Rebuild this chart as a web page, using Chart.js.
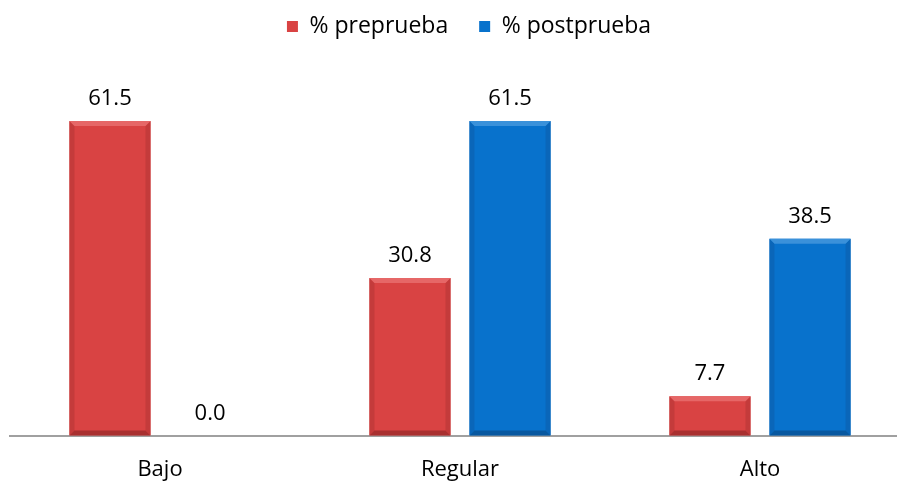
<!DOCTYPE html>
<html><head><meta charset="utf-8">
<script src="https://cdn.jsdelivr.net/npm/chart.js@4/dist/chart.umd.min.js"></script>
<style>html,body{margin:0;padding:0;overflow:hidden;background:#fff}#wrap{width:910px;height:496px;position:relative}</style>
</head><body><div id="wrap"><canvas id="c"></canvas></div>
<script>
const categories = ["Bajo", "Regular", "Alto"];
const preprueba = [61.5, 30.8, 7.7];
const postprueba = [0.0, 61.5, 38.5];
const seriesNames = ["% preprueba", "% postprueba"];
const FONT = '"Open Sans", "Liberation Sans", Arial, sans-serif';
const bevelColors = [
  { top: '#E66767', side: '#C43B3B', bottom: '#A93030' },
  { top: '#3A91DA', side: '#0A66B9', bottom: '#0858A0' }
];

const bevelPlugin = {
  id: 'bevel',
  afterDatasetsDraw(chart) {
    const c = chart.ctx; c.save();
    chart.data.datasets.forEach((ds, i) => {
      const col = bevelColors[i];
      chart.getDatasetMeta(i).data.forEach((b) => {
        const h = b.base - b.y; if (h < 2) return;
        const x0 = b.x - b.width / 2, x1 = b.x + b.width / 2, y0 = b.y, y1 = b.base;
        const d = Math.min(5, h / 2);
        const poly = (pts, f) => { c.beginPath(); c.moveTo(pts[0][0], pts[0][1]); pts.slice(1).forEach(p => c.lineTo(p[0], p[1])); c.closePath(); c.fillStyle = f; c.fill(); };
        poly([[x0, y0], [x0 + d, y0 + d], [x0 + d, y1 - d], [x0, y1]], col.side);
        poly([[x1, y0], [x1 - d, y0 + d], [x1 - d, y1 - d], [x1, y1]], col.side);
        poly([[x0, y1], [x0 + d, y1 - d], [x1 - d, y1 - d], [x1, y1]], col.bottom);
        poly([[x0, y0], [x1, y0], [x1 - d, y0 + d], [x0 + d, y0 + d]], col.top);
      });
    });
    c.font = '22px ' + FONT; c.fillStyle = '#000';
    c.textAlign = 'center'; c.textBaseline = 'alphabetic';
    chart.data.datasets.forEach((ds, i) => {
      chart.getDatasetMeta(i).data.forEach((b, j) => {
        c.fillText(ds.data[j].toFixed(1), b.x, b.y - 16);
      });
    });
    c.restore();
  }
};
const legendShift = {
  id: 'legendShift',
  afterLayout(chart) {
    if (chart.legend) { chart.legend.left += 9; chart.legend.right += 9; }
  }
};
new Chart(document.getElementById('c'), {
  type: 'bar',
  data: {
    labels: categories,
    datasets: [
      { label: seriesNames[0], data: preprueba, backgroundColor: '#D94343', categoryPercentage: 0.667, barPercentage: 0.81 },
      { label: seriesNames[1], data: postprueba, backgroundColor: '#0872CC', categoryPercentage: 0.667, barPercentage: 0.81 }
    ]
  },
  options: {
    responsive: true, maintainAspectRatio: false, animation: false,
    layout: { padding: { left: 10, right: 0, top: -16, bottom: 0 } },
    plugins: {
      legend: { position: 'top', labels: { boxWidth: 11, boxHeight: 11, padding: 31, font: { size: 23, family: FONT }, color: '#000' } },
      tooltip: { enabled: false }
    },
    scales: {
      x: { grid: { display: false }, border: { display: true, color: '#A0A0A0', width: 2 },
           ticks: { color: '#000', padding: 13, font: { size: 22, family: FONT } } },
      y: { display: false, min: 0, max: 75.8 }
    }
  },
  plugins: [bevelPlugin, legendShift]
});
</script></body></html>
